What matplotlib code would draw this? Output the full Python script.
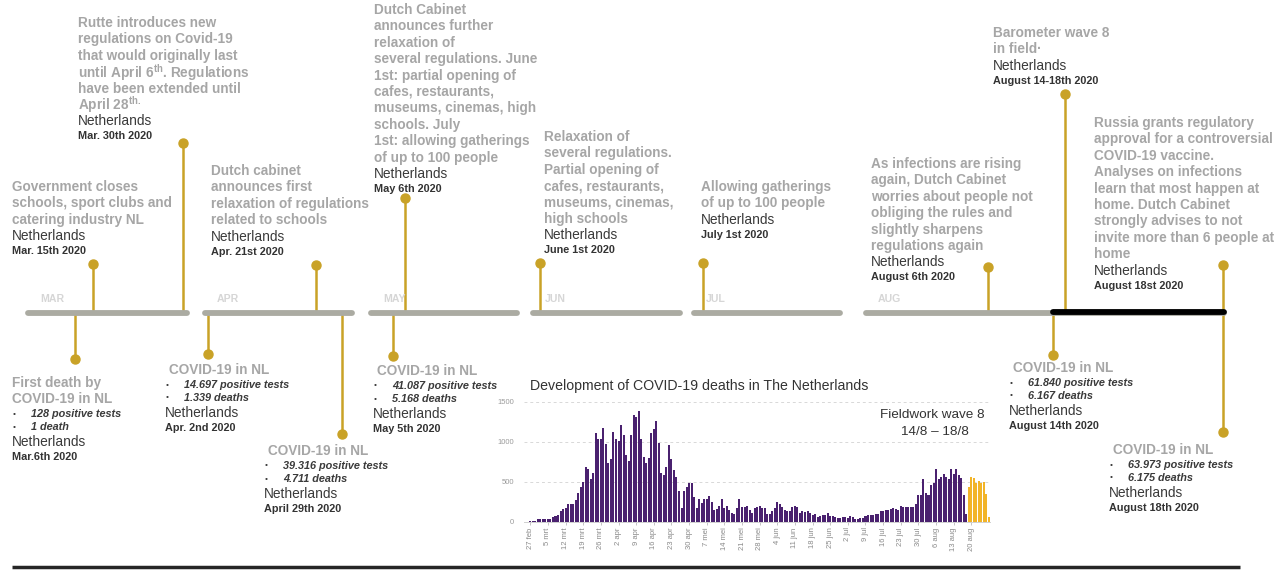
import matplotlib
matplotlib.use('Agg')
import matplotlib.pyplot as plt
import numpy as np

plt.rcParams['font.family'] = ['Liberation Sans', 'DejaVu Sans']
plt.rcParams['mathtext.fontset'] = 'custom'
plt.rcParams['mathtext.rm'] = 'Liberation Sans'
plt.rcParams['mathtext.bf'] = 'Liberation Sans:bold'

# ---------------- data ----------------
# daily values shown in the inset chart, starting 27 feb
deaths_purple = [
    5, 10, 15, 40, 35, 30, 30,
    30, 40, 60, 70, 80, 140, 165,
    175, 220, 220, 225, 270, 360, 440,
    500, 680, 660, 540, 610, 1110, 1040,
    1040, 1170, 970, 730, 790, 1120, 1040,
    1010, 1210, 1090, 840, 760, 1080, 1330,
    1310, 1380, 1040, 810, 740, 800, 1110,
    1160, 1260, 980, 610, 580, 690, 960,
    780, 650, 560, 380, 170, 380, 440,
    490, 490, 310, 170, 280, 240, 290,
    290, 320, 250, 150, 160, 200, 290,
    170, 200, 150, 110, 100, 170, 290,
    190, 190, 200, 150, 110, 170, 180,
    200, 170, 170, 100, 100, 140, 170,
    250, 220, 190, 150, 140, 140, 190,
    200, 180, 110, 130, 120, 130, 110,
    90, 100, 60, 70, 80, 90, 110,
    70, 70, 60, 50, 50, 60, 60,
    50, 70, 60, 30, 40, 50, 50,
    70, 90, 80, 90, 100, 100, 140,
    140, 150, 150, 160, 170, 160, 150,
    200, 190, 180, 190, 190, 190, 220,
    340, 340, 540, 360, 330, 460, 480,
    660, 530, 560, 600, 560, 530, 660,
    600, 660, 590, 550, 340, 100,
]
deaths_yellow = [430, 560, 550, 490, 510, 490, 500, 350, 60]
x_tick_labels = ['27 feb', '5 mrt', '12 mrt', '19 mrt', '26 mrt', '2 apr', '9 apr',
                 '16 apr', '23 apr', '30 apr', '7 mei', '14 mei', '21 mei', '28 mei',
                 '4 jun', '11 jun', '18 jun', '25 jun', '2 jul', '9 jul', '16 jul',
                 '23 jul', '30 jul', '6 aug', '13 aug', '20 aug']
y_ticks = [0, 500, 1000, 1500]
chart_title = 'Development of COVID-19 deaths in The Netherlands'
fieldwork_lines = ['Fieldwork wave 8', '14/8 \u2013 18/8']

months = ['MAR', 'APR', 'MAY', 'JUN', 'JUL', 'AUG']

above_titles = [
    ['Government closes', 'schools, sport clubs and', 'catering industry NL'],
    ['Rutte introduces new', 'regulations on Covid-19', 'that would originally last',
     r'until April 6$^{\mathbf{th}}$. Regulations', 'have been extended until',
     r'April 28$^{\mathbf{th.}}$'],
    ['Dutch cabinet', 'announces first', 'relaxation of regulations', 'related to schools'],
    ['Dutch Cabinet', 'announces further', 'relaxation of', 'several regulations. June',
     '1st: partial opening of', 'cafes, restaurants,', 'museums, cinemas, high',
     'schools. July', '1st: allowing gatherings', 'of up to 100 people'],
    ['Relaxation of', 'several regulations.', 'Partial opening of', 'cafes, restaurants,',
     'museums, cinemas,', 'high schools'],
    ['Allowing gatherings', 'of up to 100 people'],
    ['As infections are rising', 'again, Dutch Cabinet', 'worries about people not',
     'obliging the rules and', 'slightly sharpens', 'regulations again'],
    ['Barometer wave 8', 'in field\u00b7'],
    ['Russia grants regulatory', 'approval for a controversial', 'COVID-19 vaccine.',
     'Analyses on infections', 'learn that most happen at', 'home. Dutch Cabinet',
     'strongly advises to not', 'invite more than 6 people at', 'home'],
]
above_dates = ['Mar. 15th 2020', 'Mar. 30th 2020', 'Apr. 21st 2020', 'May 6th 2020',
               'June 1st 2020', 'July 1st 2020', 'August 6th 2020',
               'August 14-18th 2020', 'August 18st 2020']

below_titles = [['First death by', 'COVID-19 in NL'], ['COVID-19 in NL'], ['COVID-19 in NL'],
                ['COVID-19 in NL'], ['COVID-19 in NL'], ['COVID-19 in NL']]
below_tests = ['128 positive tests', '14.697 positive tests', '39.316 positive tests',
               '41.087 positive tests', '61.840 positive tests', '63.973 positive tests']
below_deaths = ['1 death', '1.339 deaths', '4.711 deaths', '5.168 deaths',
                '6.167 deaths', '6.175 deaths']
below_dates = ['Mar.6th 2020', 'Apr. 2nd 2020', 'April 29th 2020', 'May 5th 2020',
               'August 14th 2020', 'August 18th 2020']
country = 'Netherlands'

# ---------------- layout (pixel space) ----------------
W, H = 1274, 570
line_y = 313
month_segments = [(28, 187), (205, 352), (371, 517), (533, 680), (694, 840), (866, 1224)]
highlight_segment = (1053, 1224)
above_stem_x = [93, 183, 316, 405, 540, 703, 988, 1065, 1223]
above_stem_top = [264, 143, 265, 198, 263, 263, 267, 94, 265]
above_text_x = [12, 78, 211, 374, 544, 701, 871, 993, 1094]
above_text_y = [187, 23, 171, 10, 137, 187, 164, 33, 123]

below_stem_x = [75, 208, 342, 393, 1053, 1223]
below_stem_bot = [359, 354, 434, 356, 355, 432]
below_text_x = [12, 165, 264, 373, 1009, 1109]
below_text_y = [383, 370, 451, 371, 368, 450]

GOLD = '#C9A227'
GREY_LINE = '#ABABA2'
TITLE_GREY = '#A6A6A6'
DARK = '#3A3A3A'
LS = 16.4  # line spacing in px

fig = plt.figure(figsize=(W / 100, H / 100), dpi=100)
ax = fig.add_axes([0, 0, 1, 1])
ax.set_xlim(0, W)
ax.set_ylim(H, 0)
ax.axis('off')

# timeline segments
for (x0, x1), m in zip(month_segments, months):
    ax.plot([x0, x1], [line_y, line_y], color=GREY_LINE, lw=4.2,
            solid_capstyle='round', zorder=2)
    ax.text(x0 + 12, line_y - 14, m, fontsize=7.6, fontweight='bold',
            color='#D6D6D6', va='center', ha='left')
ax.plot(list(highlight_segment), [line_y - 1, line_y - 1], color='black', lw=4.2,
        solid_capstyle='round', zorder=3)

# above events
for i, lines in enumerate(above_titles):
    sx = above_stem_x[i]
    ax.plot([sx, sx], [line_y, above_stem_top[i]], color=GOLD, lw=1.8, zorder=1)
    ax.plot([sx], [above_stem_top[i]], 'o', color=GOLD, ms=6.5, zorder=4)
    tx, ty = above_text_x[i], above_text_y[i]
    for k, ln in enumerate(lines):
        ax.text(tx, ty + k * LS, ln, fontsize=9.85, fontweight='bold', color=TITLE_GREY,
                va='center', ha='left')
    yk = ty + len(lines) * LS
    ax.text(tx, yk, country, fontsize=9.9, color=DARK, va='center', ha='left')
    ax.text(tx, yk + 15, above_dates[i], fontsize=7.8, fontweight='bold', color='#333333',
            va='center', ha='left')

# below events
for i, lines in enumerate(below_titles):
    sx = below_stem_x[i]
    ax.plot([sx, sx], [line_y, below_stem_bot[i]], color=GOLD, lw=1.8, zorder=1)
    ax.plot([sx], [below_stem_bot[i]], 'o', color=GOLD, ms=6.5, zorder=4)
    tx, ty = below_text_x[i], below_text_y[i]
    hx = tx if len(lines) > 1 else tx + 4
    for k, ln in enumerate(lines):
        ax.text(hx, ty + k * LS, ln, fontsize=9.8, fontweight='bold', color=TITLE_GREY,
                va='center', ha='left')
    yb = ty + (len(lines) - 1) * LS + 15
    for k, bt in enumerate([below_tests[i], below_deaths[i]]):
        ax.text(tx + 1, yb + k * 13, '\u2022', fontsize=6, color=DARK, va='center', ha='left')
        ax.text(tx + 19, yb + k * 13, bt, fontsize=7.8, fontweight='bold', style='italic',
                color=DARK, va='center', ha='left')
    yk = yb + 13 + 15
    ax.text(tx, yk, country, fontsize=9.9, color=DARK, va='center', ha='left')
    ax.text(tx, yk + 15, below_dates[i], fontsize=7.8, fontweight='bold', color='#333333',
            va='center', ha='left')

# bottom rule
ax.plot([12, 1240], [567, 567], color='#262626', lw=2.5, solid_capstyle='butt')

# inset chart title & fieldwork note
ax.text(530, 386, chart_title, fontsize=10.2, color='#333333', va='center', ha='left')
ax.text(932, 415, fieldwork_lines[0], fontsize=9.7, color='#333333', va='center', ha='center')
ax.text(935, 432, fieldwork_lines[1], fontsize=9.7, color='#333333', va='center', ha='center')

# ---------------- inset bar chart ----------------
left_px, right_px, y0_px, ytop_px = 524, 990, 521.7, 401.7
iax = fig.add_axes([left_px / W, (H - y0_px) / H, (right_px - left_px) / W,
                    (y0_px - ytop_px) / H])
iax.patch.set_alpha(0)
n_p = len(deaths_purple)
xp = np.arange(n_p)
xy = np.arange(n_p, n_p + len(deaths_yellow))
iax.bar(xp, deaths_purple, width=0.8, color='#4A216F', linewidth=0)
iax.bar(xy, deaths_yellow, width=0.8, color='#F2B428', linewidth=0)
iax.set_xlim(-2.5, 182.4)
iax.set_ylim(0, 1500)
iax.set_yticks(y_ticks)
iax.set_yticklabels([str(v) for v in y_ticks])
iax.set_xticks(np.arange(len(x_tick_labels)) * 7)
iax.set_xticklabels(x_tick_labels, rotation=90)
iax.tick_params(axis='y', length=0, pad=7, labelsize=5.5, labelcolor='#9A9A9A')
iax.tick_params(axis='x', length=2.5, width=0.6, color='#BBBBBB', pad=1.5,
                labelsize=5.5, labelcolor='#8A8A8A')
for v in y_ticks[1:]:
    iax.axhline(v, color='#D8D8D8', lw=0.7, ls=(0, (3, 3)), zorder=0)
for s in ['top', 'right', 'left']:
    iax.spines[s].set_visible(False)
iax.spines['bottom'].set_color('#D0D0D0')
iax.spines['bottom'].set_linewidth(0.7)

fig.savefig('out.png', dpi=100)
